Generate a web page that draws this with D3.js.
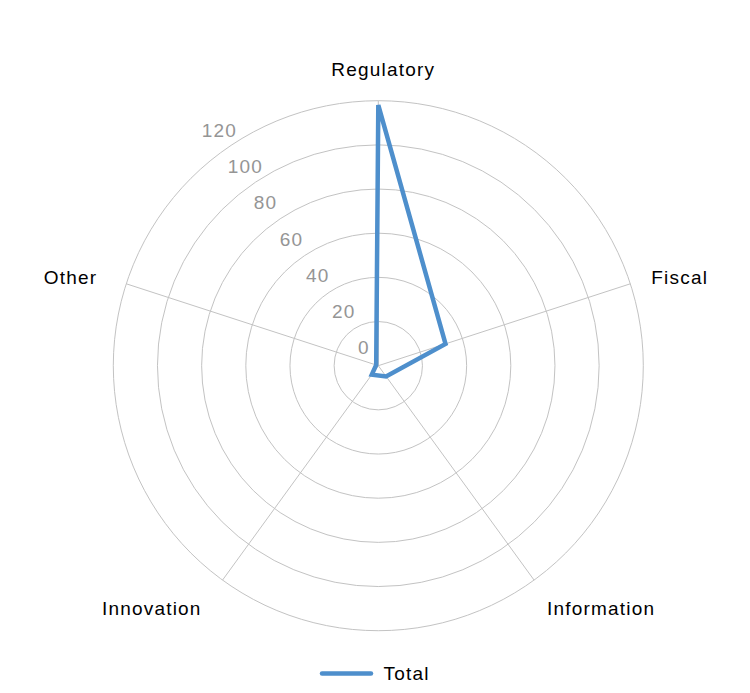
<!DOCTYPE html>
<html>
<head>
<meta charset="utf-8">
<script src="https://cdn.jsdelivr.net/npm/d3@7"></script>
<style>
  body { margin: 0; background: #fff; }
  text { font-family: "Liberation Sans", Arial, Helvetica, sans-serif; }
</style>
</head>
<body>
<div id="radar"></div>
<script>
// data
var categories = ["Regulatory", "Fiscal", "Information", "Innovation", "Other"];
var totalValues = [118, 32, 6, 5, 1];
var tickValues = [0, 20, 40, 60, 80, 100, 120];
var seriesName = "Total";

var width = 750, height = 693;
var cx = 378.3, cy = 365.7, radius = 265;

var svg = d3.select("#radar").append("svg")
    .attr("width", width)
    .attr("height", height);

var r = d3.scaleLinear().domain([0, 120]).range([0, radius]);
var angle = d3.scalePoint().domain(categories).range([0, 2 * Math.PI * 4 / 5]);

var g = svg.append("g").attr("transform", "translate(" + cx + "," + cy + ")");

// circles
g.selectAll(".ring")
    .data(tickValues.filter(function (d) { return d > 0; }))
    .enter().append("circle")
    .attr("r", function (d) { return r(d); })
    .attr("fill", "none")
    .attr("stroke", "#c3c3c3")
    .attr("stroke-width", 1);

// spokes
g.selectAll(".spoke")
    .data(categories)
    .enter().append("line")
    .attr("x1", 0).attr("y1", 0)
    .attr("x2", function (d) { return radius * Math.sin(angle(d)); })
    .attr("y2", function (d) { return -radius * Math.cos(angle(d)); })
    .attr("stroke", "#c3c3c3")
    .attr("stroke-width", 1);

// tick labels, laid out on a slanted line like the original
g.selectAll(".tick")
    .data(tickValues)
    .enter().append("text")
    .attr("x", function (d) { return -0.59 * r(d) - 20.3; })
    .attr("y", function (d) { return -11.7 - 0.818 * r(d); })
    .attr("fill", "#959595")
    .attr("font-size", 19)
    .attr("letter-spacing", "1.2px")
    .text(function (d) { return d; });

// category labels
g.selectAll(".cat")
    .data(categories)
    .enter().append("text")
    .attr("font-size", 19)
    .attr("letter-spacing", "1.2px")
    .attr("fill", "#000")
    .attr("text-anchor", function (d) {
        var s = Math.sin(angle(d));
        return s > 0.1 ? "start" : (s < -0.1 ? "end" : "middle");
    })
    .attr("x", function (d) {
        var s = Math.sin(angle(d));
        var x = (radius + 22) * s;
        if (s < -0.1) x -= 8;
        if (Math.abs(s) <= 0.1) x += 5;
        return x;
    })
    .attr("y", function (d) {
        var c = Math.cos(angle(d));
        var y = -(radius + 22) * c;
        if (c > 0.9) return y - 3;
        if (c < -0.5) return y + 17.5;
        return y + 6.5;
    })
    .text(function (d) { return d; });

// series line
var line = d3.lineRadial()
    .angle(function (d, i) { return angle(categories[i]); })
    .radius(function (d) { return r(d); })
    .curve(d3.curveLinearClosed);

g.append("path")
    .datum(totalValues)
    .attr("d", line)
    .attr("fill", "none")
    .attr("stroke", "#4e8fcc")
    .attr("stroke-width", 4.5)
    .attr("stroke-linejoin", "miter")
    .attr("stroke-miterlimit", 3);

// legend
var legend = svg.append("g");
legend.append("line")
    .attr("x1", 322).attr("x2", 371)
    .attr("y1", 673.5).attr("y2", 673.5)
    .attr("stroke", "#4e8fcc")
    .attr("stroke-width", 4.5)
    .attr("stroke-linecap", "round");
legend.append("text")
    .attr("x", 383.5).attr("y", 679.5)
    .attr("font-size", 19)
    .attr("letter-spacing", "1.2px")
    .text(seriesName);
</script>
</body>
</html>
